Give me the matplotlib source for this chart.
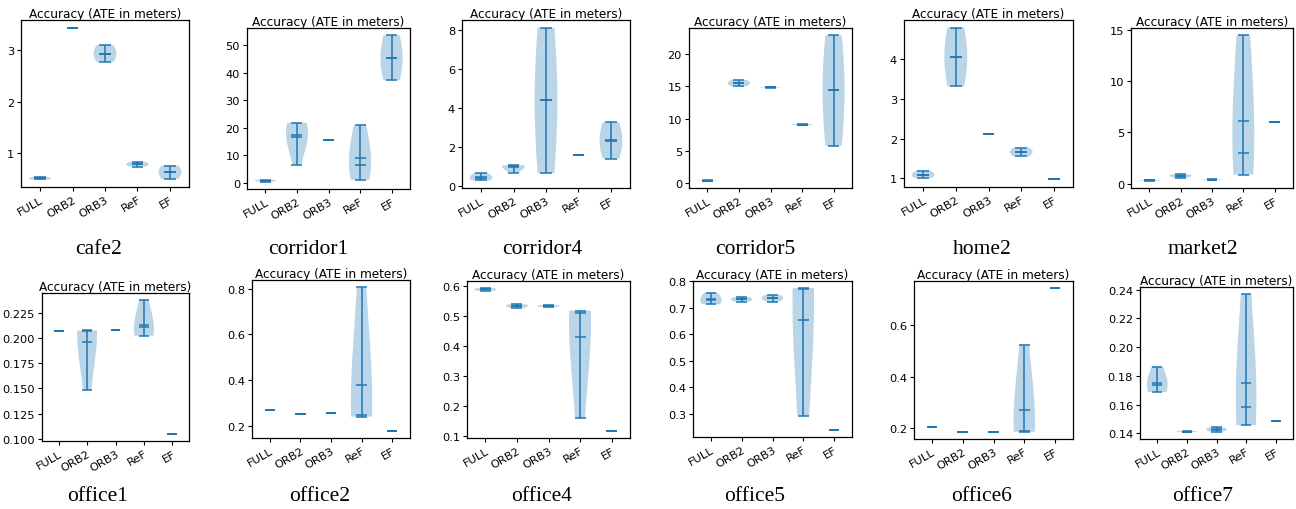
import matplotlib
matplotlib.use('Agg')
import matplotlib.pyplot as plt
from matplotlib.ticker import MultipleLocator

methods = ['FULL', 'ORB2', 'ORB3', 'ReF', 'EF']

# ATE (m) of repeated runs, per sequence, order: FULL, ORB2, ORB3, ReF, EF
cafe2 = [[0.49, 0.50, 0.51, 0.52, 0.54], [3.44], [2.77, 2.85, 2.93, 3.02, 3.10],
         [0.74, 0.77, 0.78, 0.80, 0.83], [0.50, 0.57, 0.63, 0.70, 0.76]]
corridor1 = [[0.5, 0.8, 0.9, 1.0, 1.2], [6.7, 16.5, 17.0, 18.2, 20.0, 21.9], [15.6],
             [1.2, 5.0, 6.7, 12.0, 20.9], [37.3, 41.0, 45.4, 49.5, 53.6]]
corridor4 = [[0.28, 0.35, 0.42, 0.50, 0.66], [0.68, 0.98, 1.0, 1.03, 1.06],
             [0.66, 2.5, 4.4, 6.3, 8.14], [1.56], [1.40, 1.9, 2.3, 2.8, 3.26]]
corridor5 = [[0.38, 0.41, 0.44], [15.0, 15.3, 15.5, 15.7, 16.0], [14.8, 14.85, 14.9],
             [9.0, 9.05, 9.1, 9.15], [5.8, 10.0, 14.4, 18.8, 22.9]]
home2 = [[1.01, 1.06, 1.08, 1.12, 1.19], [3.32, 3.7, 4.06, 4.42, 4.80], [2.12],
         [1.55, 1.62, 1.67, 1.70, 1.77], [0.97]]
market2 = [[0.28, 0.32, 0.36], [0.58, 0.70, 0.78, 0.85, 0.91], [0.36, 0.39, 0.42],
           [0.88, 1.6, 2.5, 3.02, 7.0, 13.5, 14.5], [6.0]]
office1 = [[0.2067], [0.1487, 0.2070, 0.2072, 0.2073, 0.2073], [0.2077],
           [0.2020, 0.2025, 0.2110, 0.2120, 0.2377], [0.1047]]
office2 = [[0.269], [0.251], [0.256], [0.240, 0.243, 0.248, 0.360, 0.807], [0.178]]
office4 = [[0.583, 0.588, 0.592], [0.526, 0.532, 0.535, 0.538], [0.529, 0.532, 0.535],
           [0.158, 0.45, 0.51, 0.515, 0.517], [0.1155]]
office5 = [[0.714, 0.722, 0.730, 0.740, 0.758], [0.724, 0.730, 0.733, 0.736, 0.741],
           [0.724, 0.733, 0.738, 0.742, 0.749], [0.294, 0.77, 0.772, 0.775], [0.240]]
office6 = [[0.204], [0.187], [0.187], [0.187, 0.188, 0.190, 0.265, 0.524], [0.742]]
office7 = [[0.1686, 0.1705, 0.1735, 0.1775, 0.1863], [0.1408, 0.1412, 0.1416],
           [0.1412, 0.1422, 0.1426, 0.1432, 0.1440],
           [0.1456, 0.150, 0.1586, 0.182, 0.2370], [0.1488]]

names = ['cafe2', 'corridor1', 'corridor4', 'corridor5', 'home2', 'market2',
         'office1', 'office2', 'office4', 'office5', 'office6', 'office7']
datas = [cafe2, corridor1, corridor4, corridor5, home2, market2,
         office1, office2, office4, office5, office6, office7]
ysteps = [1, 10, 2, 5, 1, 5, 0.025, 0.2, 0.1, 0.1, 0.2, 0.02]

# axes boxes in pixels (left, top, right, bottom) and caption centre x
boxes = [(21, 21, 189, 188), (247, 29, 410, 190), (462, 21, 630, 189),
         (689, 29, 852, 189), (904, 21, 1073, 188), (1131, 29, 1293, 189),
         (42, 294, 189, 442), (252, 281, 410, 439), (467, 282, 630, 439),
         (693, 282, 852, 438), (914, 282, 1073, 440), (1140, 288, 1293, 440)]
cap_x = [98, 308, 542, 755, 982, 1203, 98, 320, 542, 755, 982, 1203]

W, H = 1296, 510
fig = plt.figure(figsize=(W / 100, H / 100), dpi=100)

for i, (name, data) in enumerate(zip(names, datas)):
    l, t, r, b = boxes[i]
    ax = fig.add_axes([l / W, 1 - b / H, (r - l) / W, (b - t) / H])
    parts = ax.violinplot(data, positions=range(1, 6), widths=0.7, bw_method=1.25,
                          showmeans=True, showmedians=True, showextrema=True)
    for key in ['cmeans', 'cmedians', 'cmins', 'cmaxes', 'cbars']:
        parts[key].set_linewidth(1.1)
    ax.set_title('Accuracy (ATE in meters)', fontsize=8.7, pad=2)
    ax.set_xticks(range(1, 6))
    ax.set_xticklabels(methods, rotation=30, ha='right', rotation_mode='anchor')
    ax.yaxis.set_major_locator(MultipleLocator(ysteps[i]))
    ax.tick_params(labelsize=8.2, length=3, pad=2)
    for s in ax.spines.values():
        s.set_linewidth(0.9)
    row = i // 6
    fig.text(cap_x[i] / W, 1 - (249 if row == 0 else 497) / H, name,
             family='Liberation Serif', fontsize=15.5, ha='center', va='center')

fig.savefig('out.png', dpi=100)
